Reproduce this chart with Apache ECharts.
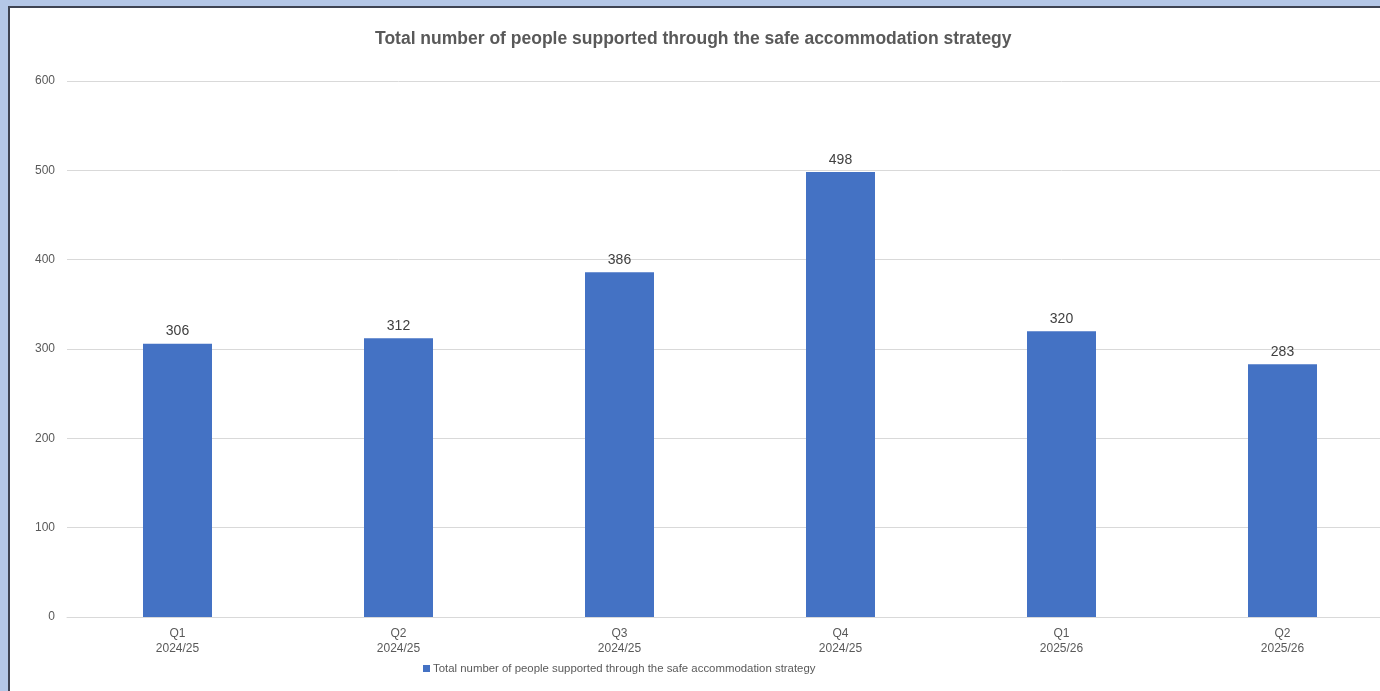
<!DOCTYPE html>
<html>
<head>
<meta charset="utf-8">
<script src="https://cdn.jsdelivr.net/npm/echarts@6/dist/echarts.min.js"></script>
<style>
html,body{margin:0;padding:0;width:1380px;height:691px;overflow:hidden;background:#b4c7e7;}
#wrap{position:absolute;left:8px;top:6px;width:1440px;height:720px;background:#fff;border-left:2px solid #3e4352;border-top:2px solid #3e4352;}
#chart{position:absolute;left:0;top:0;width:1440px;height:720px;}
</style>
</head>
<body>
<div id="wrap"><div id="chart"></div></div>
<script>
const quarters = ['Q1', 'Q2', 'Q3', 'Q4', 'Q1', 'Q2'];
const years = ['2024/25', '2024/25', '2024/25', '2024/25', '2025/26', '2025/26'];
const values = [306, 312, 386, 498, 320, 283];
const seriesName = 'Total number of people supported through the safe accommodation strategy';
const titleText = 'Total number of people supported through the safe accommodation strategy';

const categories = quarters.map((q, i) => q + '\n' + years[i]);
const font = '"Liberation Sans", Arial, sans-serif';

const chart = echarts.init(document.getElementById('chart'), null, {renderer: 'canvas'});
chart.setOption({
  animation: false,
  textStyle: {fontFamily: font},
  title: {
    text: titleText,
    left: 365,
    top: 22,
    padding: 0,
    textStyle: {fontFamily: font, fontSize: 17.5, fontWeight: 'bold', color: '#595959'}
  },
  legend: {
    left: 413,
    top: 655,
    padding: 0,
    icon: 'rect',
    itemWidth: 7,
    itemHeight: 7,
    itemGap: 10,
    textStyle: {fontFamily: font, fontSize: 11.4, color: '#595959', padding: [0, 0, 0, -2]},
    data: [seriesName]
  },
  grid: {left: 57, top: 73, width: 1326, height: 536, containLabel: false},
  xAxis: {
    type: 'category',
    data: categories,
    axisLine: {lineStyle: {color: '#d9d9d9', width: 1}},
    axisTick: {show: false},
    axisLabel: {fontFamily: font, fontSize: 12, color: '#595959', margin: 9, lineHeight: 15, interval: 0}
  },
  yAxis: {
    type: 'value',
    min: 0,
    max: 600,
    interval: 100,
    axisLine: {show: false},
    axisTick: {show: false},
    splitLine: {lineStyle: {color: '#d9d9d9', width: 1}},
    axisLabel: {fontFamily: font, fontSize: 12, color: '#595959', margin: 12}
  },
  series: [{
    name: seriesName,
    type: 'bar',
    data: values,
    barWidth: 69,
    itemStyle: {color: '#4472c4'},
    label: {show: true, position: 'top', distance: 5, fontFamily: font, fontSize: 14, color: '#404040'}
  }]
});
</script>
</body>
</html>
